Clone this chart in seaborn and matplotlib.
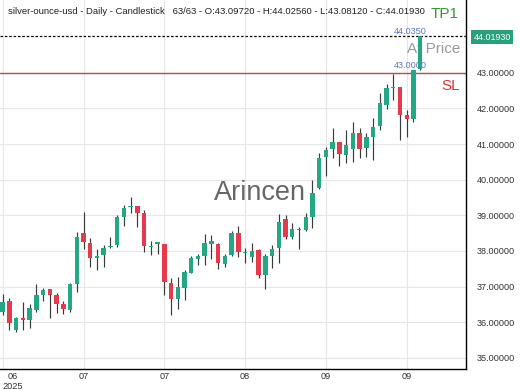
import numpy as np
import pandas as pd
import matplotlib
matplotlib.use("Agg")
import matplotlib.pyplot as plt
import seaborn as sns

# Daily OHLC values (63 candles)
opens = [36.29, 36.60, 35.78, 36.12, 36.06, 36.34, 36.77, 36.93, 36.77, 36.51,
         36.34, 37.07, 38.50, 38.22, 37.80, 37.89, 38.11, 38.17, 38.95, 39.23,
         39.26, 39.07, 38.11, 38.20, 38.20, 37.10, 36.65, 36.96, 37.38, 37.78,
         37.86, 38.20, 38.20, 37.63, 37.89, 38.50, 37.94, 37.83, 38.03, 37.33,
         37.86, 38.08, 38.90, 38.39, 38.62, 38.59, 38.95, 39.77, 40.64, 40.86,
         41.06, 40.69, 40.86, 41.31, 40.89, 41.20, 41.51, 42.09, 42.57, 42.60,
         41.81, 41.70, 43.0972]
closes = [36.57, 35.98, 36.12, 36.06, 36.40, 36.77, 36.91, 36.77, 36.51, 36.37,
          37.07, 38.39, 38.25, 37.80, 37.86, 38.08, 38.14, 38.95, 39.21, 39.26,
          39.07, 38.14, 38.14, 38.22, 37.13, 36.65, 36.99, 37.41, 37.80, 37.86,
          38.22, 38.28, 37.66, 37.86, 38.50, 37.97, 37.97, 38.00, 37.33, 37.86,
          38.06, 38.81, 38.39, 38.62, 38.59, 38.95, 39.63, 40.61, 40.83, 41.06,
          40.72, 40.97, 41.31, 40.86, 41.20, 41.48, 42.15, 42.57, 42.60, 41.81,
          41.70, 43.08, 44.0193]
highs = [36.79, 36.68, 36.15, 36.57, 36.51, 37.07, 36.96, 36.93, 36.82, 36.60,
         37.10, 38.53, 39.09, 38.36, 38.06, 38.17, 38.39, 39.01, 39.29, 39.51,
         39.26, 39.15, 38.28, 38.25, 38.20, 37.24, 37.27, 37.47, 37.86, 37.92,
         38.48, 38.45, 38.22, 37.92, 38.56, 38.70, 38.08, 38.22, 38.06, 37.92,
         38.17, 39.04, 39.01, 38.78, 38.67, 39.07, 39.99, 40.75, 40.92, 41.45,
         41.06, 41.39, 41.62, 41.45, 41.31, 41.73, 42.43, 42.68, 42.96, 42.60,
         41.95, 43.08, 44.0256]
lows = [36.20, 35.78, 35.73, 35.78, 35.84, 36.29, 36.60, 36.12, 36.26, 36.23,
        36.29, 36.85, 38.06, 37.55, 37.47, 37.55, 38.08, 38.11, 38.70, 39.07,
        38.67, 37.97, 37.89, 37.92, 36.77, 36.20, 36.37, 36.62, 37.38, 37.61,
        37.61, 37.77, 37.49, 37.55, 37.86, 37.83, 37.66, 37.69, 37.24, 36.93,
        37.52, 37.66, 38.34, 38.34, 38.06, 38.56, 38.65, 39.74, 40.10, 40.61,
        40.38, 40.47, 40.50, 40.61, 40.64, 40.55, 41.39, 41.98, 42.23, 41.11,
        41.20, 41.62, 43.0812]

# x axis ticks (candle index) and labels
tick_pos = [0, 12, 24, 36, 48, 60]
tick_labels = ["06\n2025", "07", "07", "08", "09", "09"]
price_ticks = [35, 36, 37, 38, 39, 40, 41, 42, 43]

tp1 = 44.0350
sl = 43.0000
last_close = 44.0193

df = pd.DataFrame({"open": opens, "high": highs, "low": lows, "close": closes})
df["idx"] = np.arange(len(df))
df["up"] = df["close"] >= df["open"]
df["bottom"] = df[["open", "close"]].min(axis=1)
df["body"] = (df["close"] - df["open"]).abs().clip(lower=0.04)

green = "#22a884"
red = "#e6394a"

sns.set_style("white")
plt.rcParams["font.family"] = ["Liberation Sans", "DejaVu Sans"]

fig = plt.figure(figsize=(5.2, 3.9), dpi=100)
ax = fig.add_axes([0, 1 - 369 / 390, 466 / 520, 369 / 390])

# wicks + bodies
ax.vlines(df["idx"], df["low"], df["high"], color="#3a3a3a", linewidth=0.85, zorder=3)
colors = [green if u else red for u in df["up"]]
ax.bar(df["idx"], df["body"], bottom=df["bottom"], width=0.66, color=colors,
       linewidth=0, zorder=4)

# levels
ax.axhline(sl, color="#b84a4a", linewidth=1, zorder=2)
ax.axhline(tp1, color="black", linewidth=0.9, linestyle=(0, (2, 1.5)), zorder=2)

ax.set_xlim(-0.4, 68.8)
ax.set_ylim(34.69, 45.04)
ax.set_xticks(tick_pos)
ax.set_xticklabels(tick_labels)
first = ax.get_xticklabels()[0]
first.set_horizontalalignment("left")
first.set_multialignment("center")
ax.set_yticks(price_ticks)
ax.set_yticklabels([f"{p:.5f}" for p in price_ticks])
ax.yaxis.tick_right()
ax.tick_params(axis="both", length=0, labelsize=6.6, labelcolor="#333333")
ax.tick_params(axis="x", pad=2)
ax.tick_params(axis="y", pad=8)
ax.grid(True, color="#e6e6e6", linewidth=0.8, zorder=0)
ax.set_axisbelow(True)

for s in ["left", "top"]:
    ax.spines[s].set_visible(False)
for s in ["right", "bottom"]:
    ax.spines[s].set_color("black")
    ax.spines[s].set_linewidth(1)

# texts
ax.text(8 / 466, 1 - 12 / 369,
        "silver-ounce-usd - Daily - Candlestick   63/63 - O:43.09720 - H:44.02560 - L:43.08120 - C:44.01930",
        transform=ax.transAxes, fontsize=6.8, color="#222222", va="center", ha="left")
ax.text(459 / 466, 1 - 14 / 369, "TP1", transform=ax.transAxes, fontsize=11,
        color="#2e9a2e", va="center", ha="right")
ax.text(427 / 466, 1 - 31 / 369, "44.0350", transform=ax.transAxes, fontsize=6.6,
        color="#5a78c8", va="center", ha="right")
ax.text(460 / 466, 1 - 49 / 369, "At Price", transform=ax.transAxes, fontsize=11,
        color="#999999", va="center", ha="right", zorder=1)
ax.text(427 / 466, 1 - 66 / 369, "43.0000", transform=ax.transAxes, fontsize=6.6,
        color="#5a78c8", va="center", ha="right")
ax.text(460 / 466, 1 - 86 / 369, "SL", transform=ax.transAxes, fontsize=11,
        color="#dd3333", va="center", ha="right")
ax.text(260 / 466, 1 - 193 / 369, "Arincen", transform=ax.transAxes, fontsize=19.5,
        color="#666666", va="center", ha="center", zorder=1)

# last price tag
fig.text(492 / 520, 1 - 37 / 390, f"{last_close:.5f}", fontsize=6.4, color="white",
         ha="center", va="center",
         bbox=dict(boxstyle="square,pad=0.25", facecolor="#26a17b", edgecolor="none"))

fig.savefig("out.png", dpi=100)
